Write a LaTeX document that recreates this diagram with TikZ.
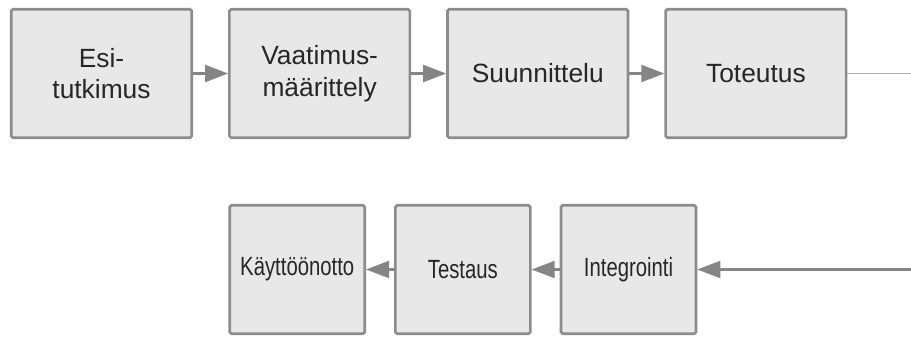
\documentclass[tikz,border=0pt]{standalone}
\usepackage{fontspec}
\setmainfont{Liberation Sans}
\usetikzlibrary{positioning}
\usetikzlibrary{arrows.meta}
\definecolor{boxfill}{HTML}{E8E8E8}
\definecolor{boxline}{HTML}{8C8C8C}
\definecolor{arrowgray}{HTML}{858585}
\newcommand{\narrowtext}[1]{\scalebox{0.77}[1]{#1}}
\tikzset{
phase/.style={draw=boxline,fill=boxfill,line width=1.5pt,rounded corners=1pt,align=center,inner sep=0pt,font=\fontsize{15}{18}\selectfont,text=black!85},
wide/.style={phase,minimum width=3.61cm,minimum height=2.57cm},
narrow/.style={phase,minimum width=2.7cm,minimum height=2.57cm},
flow/.style={draw=arrowgray,line width=1.2pt,-{Triangle[length=0.46cm,width=0.34cm]}}
}

\begin{document}
\begin{tikzpicture}
\useasboundingbox (0,0) rectangle (18.22,-6.74);
\node[wide] at(2.03,-1.47)(esi) {Esi-\\tutkimus};
\node[wide,right=0.7cm of esi](vaat) {Vaatimus-\\määrittely};
\node[wide,right=0.7cm of vaat](suun) {Suunnittelu};
\node[wide,right=0.7cm of suun](tot) {Toteutus};
\node[narrow] at(12.57,-5.39)(integ) {\narrowtext{Integrointi}};
\node[narrow,left=0.56cm of integ](test) {\narrowtext{Testaus}};
\node[narrow,left=0.56cm of test](kaytto) {\narrowtext{Käyttöönotto}};
\coordinate (outR) at (18.22,-1.47);
\coordinate (inR) at (18.22,-5.39);
\draw[flow] (esi)--(vaat);
\draw[flow] (vaat)--(suun);
\draw[flow] (suun)--(tot);
\draw[draw=arrowgray!70,line width=0.8pt] (tot)--(outR);
\draw[flow] (inR)--(integ);
\draw[flow] (integ)--(test);
\draw[flow] (test)--(kaytto);
\end{tikzpicture}
\end{document}
